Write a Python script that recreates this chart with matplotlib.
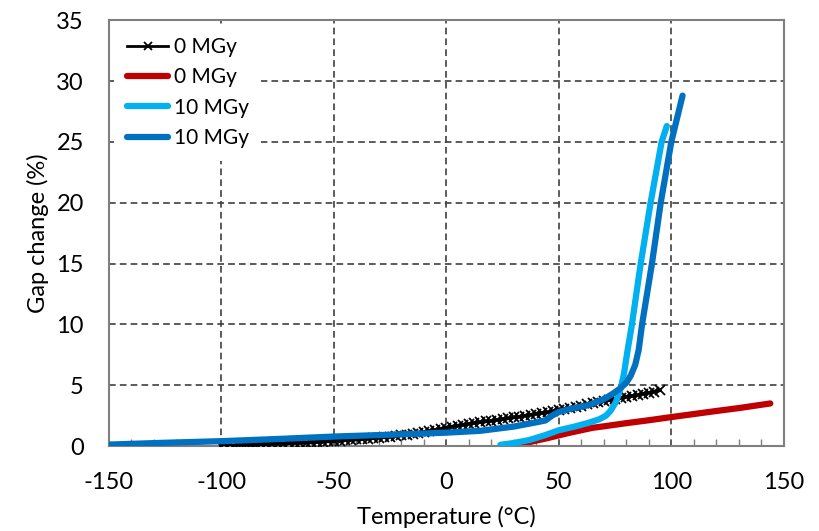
import numpy as np
import matplotlib
matplotlib.use("Agg")
import matplotlib.pyplot as plt
from matplotlib.ticker import MultipleLocator

plt.rcParams['font.family'] = ['Lato', 'DejaVu Sans']
plt.rcParams['axes.unicode_minus'] = False

# 0 MGy, measured with markers (black)
t_black = [-100, -97.5, -95, -92.5, -90, -87.5, -85, -82.5, -80, -77.5, -75, -72.5, -70, -67.5,
           -65, -62.5, -60, -57.5, -55, -52.5, -50, -47.5, -45, -42.5, -40, -37.5, -35, -32.5,
           -30, -27.5, -25, -22.5, -20, -17.5, -15, -12.5, -10, -7.5, -5, -2.5, 0, 2.5, 5, 7.5,
           10, 12.5, 15, 17.5, 20, 22.5, 25, 27.5, 30, 32.5, 35, 37.5, 40, 42.5, 45, 47.5,
           50, 52.5, 55, 57.5, 60, 62.5, 65, 67.5, 70, 72.5, 75, 77.5, 80, 82.5, 85, 87.5, 90, 92.5, 95]
g_black = [0.0, 0.02, 0.04, 0.06, 0.07, 0.1, 0.11, 0.13, 0.15, 0.17, 0.19, 0.2, 0.23, 0.25,
           0.27, 0.29, 0.31, 0.34, 0.36, 0.38, 0.41, 0.43, 0.47, 0.5, 0.54, 0.57, 0.61, 0.65,
           0.69, 0.73, 0.78, 0.82, 0.88, 0.94, 1.0, 1.08, 1.15, 1.24, 1.32, 1.42, 1.52, 1.6, 1.68, 1.75,
           1.82, 1.9, 1.96, 2.02, 2.08, 2.15, 2.22, 2.28, 2.35, 2.42, 2.5, 2.58, 2.66, 2.72, 2.76, 2.86,
           2.98, 3.06, 3.15, 3.24, 3.33, 3.42, 3.5, 3.6, 3.68, 3.77, 3.86, 3.95, 4.04, 4.12, 4.2, 4.3, 4.38, 4.48, 4.58]

# 0 MGy (red)
t_red = [28, 32, 36, 40, 45, 50, 55, 60, 65, 70, 80, 90, 100, 110, 120, 130, 144]
g_red = [0.0, 0.12, 0.28, 0.45, 0.65, 0.88, 1.1, 1.3, 1.5, 1.62, 1.88, 2.12, 2.38, 2.63, 2.88, 3.12, 3.5]

# 10 MGy (light blue)
t_lb = [24, 30, 37, 44, 50, 57, 63, 68, 71, 73, 75.3, 76.5, 77.6, 79, 80.5, 82.5, 86.4, 90.8, 95.7, 98]
g_lb = [0.1, 0.25, 0.5, 0.9, 1.3, 1.6, 1.9, 2.2, 2.5, 2.9, 3.6, 4.2, 4.8, 6.0, 7.8, 10, 15, 20, 25, 26.3]

# 10 MGy (dark blue)
t_db = [-150, -125, -100, -75, -50, -25, 0, 15, 30, 40, 44, 47, 50, 55, 63, 70, 74,
        77, 80, 82, 84, 85.5, 87, 91.4, 95.3, 100, 105]
g_db = [0.12, 0.27, 0.4, 0.58, 0.78, 0.93, 1.1, 1.25, 1.6, 1.95, 2.1, 2.5, 2.8, 3.05, 3.35, 3.85, 4.3,
        4.7, 5.2, 5.8, 6.7, 7.9, 10, 15, 20, 25, 28.8]

fig = plt.figure(figsize=(8.19, 5.31), dpi=100)
ax = fig.add_axes([0.133, 0.160, 0.824, 0.802])

ax.plot(t_black, g_black, color='black', lw=2.5, marker='x', ms=7.5, mew=1.3,
        label='0 MGy', zorder=3)
ax.plot(t_red, g_red, color='#C00000', lw=4.5, solid_capstyle='round',
        label='0 MGy', zorder=2)
ax.plot(t_lb, g_lb, color='#00B0F0', lw=4.5, solid_capstyle='round',
        label='10 MGy', zorder=4)
ax.plot(t_db, g_db, color='#0070C0', lw=4.5, solid_capstyle='round',
        label='10 MGy', zorder=5)

ax.set_xlim(-150, 150)
ax.set_ylim(0, 35)
ax.xaxis.set_major_locator(MultipleLocator(50))
ax.xaxis.set_minor_locator(MultipleLocator(10))
ax.yaxis.set_major_locator(MultipleLocator(5))

ax.grid(True, which='major', color='#404040', linestyle=(0, (4, 2.5)), linewidth=1.2)
ax.tick_params(axis='both', which='major', length=0, labelsize=17, colors='#000000')
ax.tick_params(axis='x', which='major', pad=19)
ax.tick_params(axis='y', which='major', pad=18)
ax.tick_params(axis='x', which='minor', direction='in', length=5, color='#7f7f7f', width=1)
ax.tick_params(axis='y', which='minor', length=0)

for s in ax.spines.values():
    s.set_color('#7f7f7f')
    s.set_linewidth(1.5)

ax.set_xlabel('Temperature (°C)', fontsize=17, labelpad=9)
ax.set_ylabel('Gap change (%)', fontsize=17, labelpad=5)

leg = ax.legend(loc='upper left', frameon=True, facecolor='white', edgecolor='none',
                framealpha=1, fancybox=False, fontsize=15, handlelength=2.0,
                handletextpad=0.25, labelspacing=0.5, borderaxespad=0.0, borderpad=0.6,
                bbox_to_anchor=(0.008, 0.99))
leg.get_lines()[0].set_linewidth(2)
leg.get_lines()[0].set_markersize(6)

fig.savefig('out.png', dpi=100)
